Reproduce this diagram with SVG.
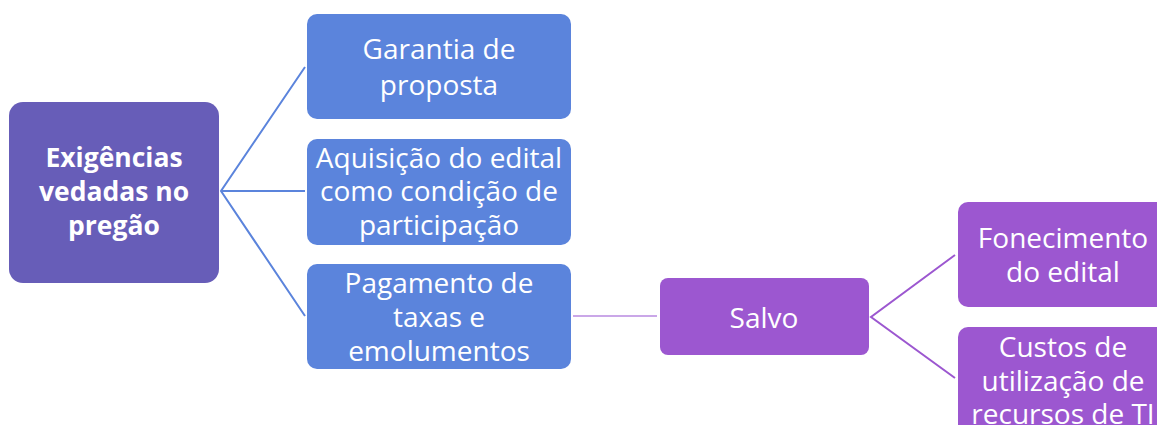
<svg xmlns="http://www.w3.org/2000/svg" width="1157" height="425" viewBox="0 0 1157 425">
<style>
.box{stroke:none}
.root{fill:#675DB8}
.blue{fill:#5B84DC}
.purple{fill:#9C57D0}
text{font-family:"Open Sans","Liberation Sans",sans-serif;fill:#fff;text-anchor:middle;dominant-baseline:central}
.t{font-size:28px}
.b{font-size:26.5px;font-weight:bold}
.cb{stroke:#5B84DC;stroke-width:2;fill:none}
.cp{stroke:#9C57D0;stroke-width:2;fill:none}
.cl{stroke:#B98AE0;stroke-width:1.5;fill:none}
</style>
<rect width="1157" height="425" fill="#fff"/>
<g id="connectors">
<polyline class="cb" points="305,67 221,191 305,316"/>
<line class="cb" x1="221" y1="191" x2="305" y2="191"/>
<line class="cl" x1="573" y1="316" x2="657" y2="316"/>
<polyline class="cp" points="955,255 871,317 955,378"/>
</g>
<g id="root">
<rect class="box root" x="9" y="102" width="210" height="181" rx="14"/>
<text class="b" x="114" y="157">Exigências</text>
<text class="b" x="114" y="191">vedadas no</text>
<text class="b" x="114" y="225">pregão</text>
</g>
<g id="garantia">
<rect class="box blue" x="307" y="14" width="264" height="105" rx="10"/>
<text class="t" x="439" y="48">Garantia de</text>
<text class="t" x="439" y="84">proposta</text>
</g>
<g id="aquisicao">
<rect class="box blue" x="307" y="139" width="264" height="106" rx="10"/>
<text class="t" x="439" y="157">Aquisição do edital</text>
<text class="t" x="439" y="190">como condição de</text>
<text class="t" x="439" y="224">participação</text>
</g>
<g id="pagamento">
<rect class="box blue" x="307" y="264" width="264" height="105" rx="10"/>
<text class="t" x="439" y="282">Pagamento de</text>
<text class="t" x="439" y="316">taxas e</text>
<text class="t" x="439" y="350">emolumentos</text>
</g>
<g id="salvo">
<rect class="box purple" x="660" y="278" width="209" height="77" rx="8"/>
<text class="t" x="764" y="317">Salvo</text>
</g>
<g id="fonecimento">
<rect class="box purple" x="958" y="202" width="212" height="105" rx="10"/>
<text class="t" x="1063" y="237">Fonecimento</text>
<text class="t" x="1063" y="271">do edital</text>
</g>
<g id="custos">
<rect class="box purple" x="958" y="327" width="212" height="120" rx="10"/>
<text class="t" x="1063" y="346">Custos de</text>
<text class="t" x="1063" y="380">utilização de</text>
<text class="t" x="1063" y="413">recursos de TI</text>
</g>
</svg>
